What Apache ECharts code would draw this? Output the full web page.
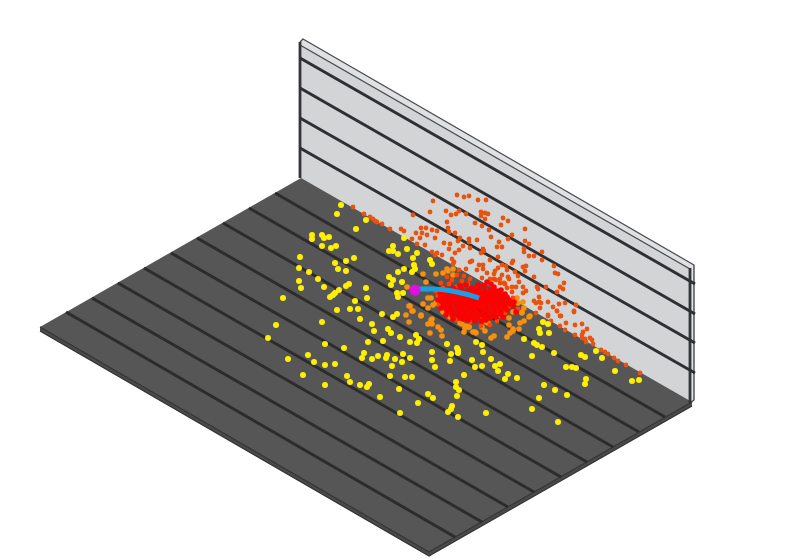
<!DOCTYPE html>
<html><head><meta charset="utf-8">
<style>html,body{margin:0;padding:0;background:#fff}#c{width:800px;height:560px}</style>
<script src="https://cdn.jsdelivr.net/npm/echarts@6/dist/echarts.min.js"></script></head>
<body><div id="c"></div>
<script>
const floorSide=[[40,327],[429,552],[692,402],[692,406],[429,556],[40,331]];
const floorTop=[[40,327],[301,178],[692,402],[429,552]];
const wallFace=[[300,44],[690,268],[690,403],[300,178]];
const wallCap=[[302,39],[694,265],[694,400],[690,403],[690,268],[300,44]];
const wallLines=[[[300,58],[695,284]],[[300,88],[695,314]],[[300,118],[695,343]],[[300,148],[695,373]]];
const capEdges=[[[300,42],[303,39],[694,265],[694,400],[690,403]],[[300,45],[690,269]]];
const wallPosts=[[[300,42],[300,178]],[[690,268],[690,403]]];
const floorRim=[[[40,327],[429,552],[692,402]],[[40,331],[429,556],[692,406]]];
const floorLines=[[[275,193],[665,417]],[[249,208],[639,432]],[[223,223],[613,447]],[[197,238],[587,462]],[[171,253],[561,477]],[[144,268],[534,492]],[[118,283],[508,507]],[[92,298],[482,522]],[[66,312],[455,537]]];
const blueTrack=[[416,289],[433,289],[457,292],[479,298]];
const startPoint=[[415,290]];
const wallPoints=[[353,207],[364,214],[370,217],[373,219],[375,221],[377,222],[382,224],[390,229],[401,229],[404,231],[413,215],[433,201],[430,212],[446,211],[451,215],[456,214],[459,211],[466,214],[481,212],[485,213],[488,214],[481,216],[485,219],[447,222],[475,223],[482,226],[503,218],[508,221],[501,225],[489,230],[525,229],[512,235],[508,239],[491,237],[477,240],[469,239],[469,242],[460,238],[455,233],[448,228],[449,232],[421,228],[426,228],[432,230],[437,231],[416,233],[422,233],[427,235],[420,238],[435,238],[412,239],[417,244],[425,245],[444,243],[450,244],[458,241],[463,246],[470,248],[449,249],[459,250],[455,253],[432,252],[437,253],[435,255],[442,255],[452,259],[454,262],[453,264],[457,195],[464,197],[469,196],[478,200],[486,200],[499,242],[502,247],[497,247],[483,249],[484,251],[481,253],[498,257],[525,241],[529,244],[524,249],[524,252],[529,256],[534,256],[542,252],[542,260],[554,266],[555,273],[558,274],[534,277],[513,261],[512,263],[523,267],[526,266],[525,271],[515,272],[490,260],[483,265],[479,265],[472,261],[470,262],[477,270],[483,269],[487,273],[466,269],[506,266],[502,265],[498,268],[495,271],[494,274],[502,275],[507,270],[508,277],[518,276],[500,279],[496,280],[490,279],[482,278],[504,283],[509,279],[519,282],[523,287],[516,287],[512,287],[526,291],[523,293],[537,287],[538,289],[546,287],[560,287],[564,283],[563,289],[557,292],[565,303],[559,304],[548,302],[539,297],[539,302],[534,301],[536,303],[541,303],[540,308],[553,307],[557,311],[560,316],[576,305],[574,311],[548,315],[536,313],[548,316],[561,316],[574,312],[557,311],[551,321],[566,323],[575,325],[582,324],[587,329],[560,326],[565,330],[575,335],[583,332],[582,335],[585,339],[582,338],[586,342],[590,338],[592,340],[593,344],[601,350],[605,352],[608,354],[614,358],[618,361],[626,365],[640,373]];
const yellowPoints=[[341,205],[337,214],[366,220],[356,229],[312,235],[312,239],[322,235],[324,238],[329,237],[322,246],[331,248],[336,246],[300,257],[346,261],[354,258],[335,263],[338,269],[346,271],[299,268],[309,272],[299,281],[318,279],[301,288],[324,287],[349,284],[346,286],[339,290],[335,293],[333,295],[330,297],[283,298],[366,288],[367,298],[355,301],[337,310],[350,309],[358,309],[360,319],[382,314],[393,317],[397,314],[404,238],[393,246],[389,251],[393,251],[398,254],[407,249],[417,253],[413,258],[430,260],[432,264],[414,265],[415,269],[412,272],[404,269],[398,272],[389,277],[393,280],[402,282],[391,285],[397,293],[398,297],[403,293],[276,325],[322,322],[372,324],[374,331],[388,329],[391,333],[400,337],[416,335],[419,339],[410,342],[417,343],[383,341],[368,342],[325,344],[344,348],[268,338],[364,353],[362,358],[372,359],[378,356],[387,355],[386,358],[395,359],[402,362],[403,354],[410,358],[432,352],[432,360],[450,361],[451,354],[447,344],[308,355],[288,359],[314,362],[325,365],[335,364],[392,366],[435,367],[303,375],[347,376],[390,376],[405,377],[412,377],[350,382],[325,385],[360,385],[369,384],[367,387],[399,389],[428,394],[433,398],[380,397],[418,403],[456,382],[456,387],[459,390],[457,396],[452,406],[451,409],[448,412],[400,413],[458,417],[457,348],[458,350],[458,353],[543,322],[548,324],[539,329],[540,333],[549,333],[524,339],[534,343],[537,345],[542,347],[532,356],[554,353],[581,355],[585,357],[596,351],[602,358],[615,371],[566,367],[572,367],[576,368],[586,379],[585,384],[632,381],[639,380],[544,385],[555,390],[567,395],[539,398],[532,409],[558,422],[486,413],[476,342],[482,345],[483,352],[491,359],[472,360],[475,367],[482,366],[495,366],[500,364],[498,371],[508,374],[505,379],[517,378],[464,375]];
const orangePoints=[[407,287],[409,306],[406,315],[413,311],[421,315],[431,320],[428,324],[432,324],[438,327],[441,330],[442,336],[430,333],[409,322],[464,332],[469,327],[473,332],[476,333],[462,324],[466,326],[485,331],[482,327],[486,322],[509,318],[509,325],[513,329],[510,333],[507,337],[494,336],[491,338],[520,323],[524,321],[529,317],[522,312],[443,312],[450,317],[460,323],[465,328],[469,327],[475,332],[482,319],[488,323],[500,315],[519,329],[513,331],[428,298],[431,298],[433,305],[436,303],[428,308],[423,304],[410,306],[412,311],[421,316],[432,319],[426,282],[423,274],[436,274],[443,273],[447,269],[453,269],[453,275],[448,271],[517,298],[523,302],[518,303],[513,312],[524,308],[522,313],[530,316]];
const hotPoints=[[447,277],[452,280],[457,275],[462,281],[468,284],[449,284],[456,287],[443,288],[459,270],[441,283],[464,276],[470,279],[513,298],[518,309],[510,306],[505,313],[497,321],[490,325],[481,326],[470,322],[456,320],[448,311],[439,305],[438,296],[436,291],[507,288],[512,292],[505,284],[500,283],[494,279]];
const redPoints=[[487,282],[491,284],[484,286],[494,287],[478,285],[472,288],[466,285],[460,286],[453,288],[447,289],[442,291],[448,290],[455,290],[461,289],[467,291],[473,290],[479,289],[485,291],[491,290],[497,291],[501,290],[440,293],[445,294],[451,293],[458,294],[464,293],[470,294],[476,293],[482,294],[488,293],[494,294],[500,293],[505,294],[441,296],[447,297],[453,296],[459,297],[465,296],[471,297],[477,296],[483,297],[489,296],[495,297],[501,296],[507,297],[443,299],[449,300],[455,299],[461,300],[467,299],[473,300],[479,299],[485,300],[491,299],[497,300],[503,299],[509,300],[442,302],[448,303],[454,302],[460,303],[466,302],[472,303],[478,302],[484,303],[490,302],[496,303],[502,302],[508,303],[514,302],[444,305],[450,306],[456,305],[462,306],[468,305],[474,306],[480,305],[486,306],[492,305],[498,306],[504,305],[510,304],[445,308],[451,309],[457,308],[463,309],[469,308],[475,309],[481,308],[487,309],[493,308],[499,309],[505,308],[447,311],[453,312],[459,311],[465,312],[471,311],[477,312],[483,311],[489,312],[495,311],[501,312],[507,310],[452,315],[458,315],[464,314],[470,315],[476,314],[482,315],[488,314],[494,315],[500,314],[460,318],[466,318],[472,317],[478,318],[484,317],[490,318],[496,317],[475,321],[482,321],[486,320],[468,320],[463,319],[470,292],[474,295],[478,291],[482,299],[486,295],[490,298],[476,298],[480,296],[484,293],[488,299],[492,296],[472,298],[468,296],[464,299],[460,295],[456,298],[486,302],[480,302],[476,304],[471,301],[466,304],[462,302],[456,303],[452,301],[494,302],[498,298],[502,304],[441,308],[446,315],[453,319],[438,300],[513,306],[516,312],[503,317]];

const line=(d,w,c)=>({type:'line',data:d,symbol:'none',silent:true,animation:false,lineStyle:{width:w,color:c,cap:'butt',join:'round'},z:3});
const poly=(pts,fill)=>({type:'custom',silent:true,animation:false,z:1,data:[0],
  renderItem:(p,api)=>({type:'polygon',shape:{points:pts.map(q=>api.coord(q))},style:{fill:fill}})});
const dots=(d,size,c,z)=>({type:'scatter',data:d,symbolSize:size,silent:true,animation:false,z:z,itemStyle:{color:c,opacity:1}});

const series=[
  poly(wallCap,'#e0e1e3'),poly(wallFace,'#d3d4d6'),
  poly(floorSide,'#4a4a4a'),poly(floorTop,'#565656')
];
capEdges.forEach(l=>series.push(line(l,1.4,'#4a4b4f')));
wallPosts.forEach(l=>series.push(line(l,2.8,'#333438')));
wallLines.forEach(l=>series.push(line(l,3,'#2e2f33')));
floorRim.forEach(l=>series.push(line(l,1.4,'#333333')));
floorLines.forEach(l=>series.push(line(l,3,'#2c2c2c')));
series.push(dots(wallPoints,4.8,'#e8540f',5));
series.push(dots(yellowPoints,6,'#fff000',6));
series.push(dots(orangePoints,5.6,'#f7900f',7));
series.push(dots(hotPoints,4.8,'#ff4400',8));
series.push(dots(redPoints,5.6,'#ff0000',9));
series.push(Object.assign(line(blueTrack,5,'#1b9fe3'),{smooth:true,z:10}));
series.push(dots(startPoint,11,'#e010e0',11));

const chart=echarts.init(document.getElementById('c'),null,{renderer:'canvas'});
chart.setOption({
  animation:false,backgroundColor:'#ffffff',
  grid:{left:0,right:0,top:0,bottom:0},
  xAxis:{type:'value',min:0,max:800,show:false},
  yAxis:{type:'value',min:0,max:560,inverse:true,show:false},
  series:series
});
</script></body></html>
